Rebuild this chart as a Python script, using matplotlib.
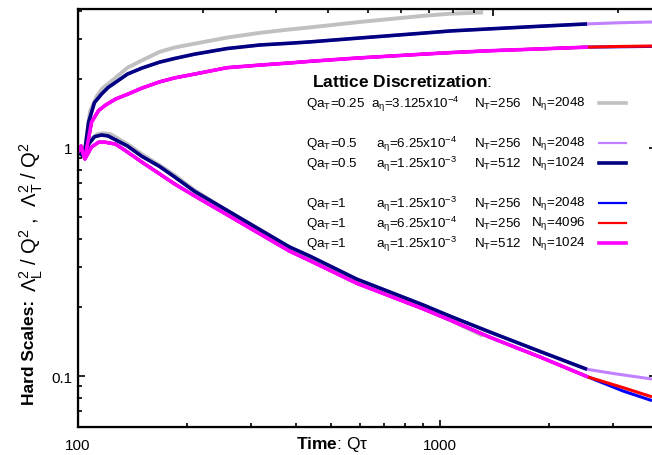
import numpy as np
import matplotlib
matplotlib.use("Agg")
from matplotlib import pyplot as plt
from matplotlib.lines import Line2D
from matplotlib.ticker import LogLocator, NullFormatter, FixedLocator, FixedFormatter

plt.rcParams['font.family'] = ['Liberation Sans', 'DejaVu Sans']
plt.rcParams['mathtext.fontset'] = 'custom'
plt.rcParams['mathtext.rm'] = 'Liberation Sans'
plt.rcParams['mathtext.it'] = 'Liberation Sans:italic'
plt.rcParams['mathtext.bf'] = 'Liberation Sans:bold'

# QaT=0.25, 256 x 2048 (gris)
t_gray = [100, 103, 105, 108, 113, 117, 123, 137, 150, 168, 185, 208, 258, 318, 384, 430, 600, 900, 1066, 1315]
T_gray = [0.96, 0.92, 1.05, 1.45, 1.70, 1.83, 1.95, 2.25, 2.42, 2.64, 2.76, 2.86, 3.05, 3.20, 3.31, 3.37, 3.57, 3.80, 3.88, 3.93]
L_gray = [0.96, 0.93, 1.00, 1.08, 1.15, 1.16, 1.15, 1.04, 0.94, 0.84, 0.76, 0.66, 0.53, 0.44, 0.365, 0.333, 0.26, 0.198, 0.176, 0.150]

# QaT=0.5, 512 x 1024 (azul marino)
t_navy = [100, 104, 107, 111, 116, 121, 137, 150, 168, 185, 210, 258, 318, 384, 438, 589, 898, 1066, 1372, 1893, 2547]
T_navy = [0.96, 0.92, 1.30, 1.58, 1.72, 1.84, 2.11, 2.24, 2.38, 2.47, 2.58, 2.73, 2.83, 2.88, 2.92, 3.03, 3.19, 3.26, 3.33, 3.42, 3.50]
L_navy = [0.96, 0.92, 1.04, 1.12, 1.14, 1.13, 1.02, 0.92, 0.83, 0.746, 0.645, 0.533, 0.438, 0.368, 0.335, 0.266, 0.205, 0.183, 0.156, 0.128, 0.107]

# QaT=0.5, 256 x 2048 (lila)
t_lila = t_navy + [3083, 3850]
T_lila = T_navy + [3.54, 3.57]
L_lila = L_navy + [0.102, 0.097]

# QaT=1, 512 x 1024 (magenta)
t_mag = [100, 102, 104.5, 109, 114, 119, 127, 137, 150, 168, 185, 210, 258, 318, 384, 438, 589, 898, 1066, 1372, 1893, 2565]
T_mag = [0.96, 1.00, 0.90, 1.30, 1.46, 1.54, 1.64, 1.72, 1.83, 1.95, 2.03, 2.11, 2.25, 2.31, 2.36, 2.40, 2.48, 2.58, 2.62, 2.67, 2.72, 2.77]
L_mag = [1.00, 1.02, 0.895, 1.01, 1.06, 1.06, 1.04, 0.96, 0.868, 0.77, 0.695, 0.616, 0.51, 0.42, 0.353, 0.32, 0.255, 0.197, 0.176, 0.148, 0.121, 0.099]

# QaT=1, 256 x 4096 (rojo) y 256 x 2048 (azul)
t_red = t_mag + [3200, 3850]
T_red = T_mag + [2.79, 2.80]
L_red = L_mag + [0.089, 0.081]
t_blue = t_mag + [3200, 3850]
T_blue = T_mag + [2.78, 2.79]
L_blue = L_mag + [0.086, 0.078]

fig = plt.figure(figsize=(6.52, 4.56), dpi=100)
W, H = 652.0, 456.0
ax = fig.add_axes([78 / W, 1 - 427.6 / H, 578 / W, (427.6 - 10) / H])

series = [
    (t_gray, T_gray, L_gray, '#c0c0c0', 2.8, 1),
    (t_lila, T_lila, L_lila, '#c080ff', 2.2, 2),
    (t_blue, T_blue, L_blue, '#0000ff', 2.2, 3),
    (t_red, T_red, L_red, '#ff0000', 2.2, 4),
    (t_navy, T_navy, L_navy, '#000080', 2.6, 5),
    (t_mag, T_mag, L_mag, '#ff00ff', 2.6, 6),
]
for t, up, lo, c, lw, z in series:
    ax.plot(t, up, color=c, lw=lw, zorder=z, solid_capstyle='butt')
    ax.plot(t, lo, color=c, lw=lw, zorder=z, solid_capstyle='butt')

ax.set_xscale('log')
ax.set_yscale('log')
ax.set_xlim(100, 3950)
ax.set_ylim(0.06, 4.07)

ax.xaxis.set_major_locator(FixedLocator([100, 1000]))
ax.xaxis.set_major_formatter(FixedFormatter(['100', '1000']))
ax.xaxis.set_minor_locator(LogLocator(base=10, subs=np.arange(2, 10)))
ax.xaxis.set_minor_formatter(NullFormatter())
ax.yaxis.set_major_locator(FixedLocator([0.1, 1]))
ax.yaxis.set_major_formatter(FixedFormatter(['0.1', '1']))
ax.yaxis.set_minor_locator(LogLocator(base=10, subs=np.arange(2, 10)))
ax.yaxis.set_minor_formatter(NullFormatter())

ax.tick_params(which='both', direction='in', top=False, right=True, labelsize=11, width=1.2)
ax.tick_params(which='major', length=5)
ax.tick_params(which='minor', length=3)
ax.tick_params(axis='x', which='major', pad=8)
ax.tick_params(axis='y', which='major', pad=4)
for s in ax.spines.values():
    s.set_linewidth(1.6)

# eje superior con otra escala
ax2 = ax.twiny()
ax2.set_xscale('log')
ax2.set_xlim(1, 10 ** (578 / 415.0))
ax2.tick_params(which='both', direction='in', labeltop=False, width=1.2)
ax2.tick_params(which='major', length=5)
ax2.tick_params(which='minor', length=3)
ax2.xaxis.set_minor_formatter(NullFormatter())
ax2.xaxis.set_major_formatter(NullFormatter())

# etiquetas de ejes
fig.text(332 / W, 1 - 445 / H, r'$\bf{Time}$: Q$\mathregular{\tau}$', fontsize=12.5,
         ha='center', va='center')

# etiqueta Y: parte en negrita + parte normal, una encima de la otra
t1 = fig.text(30 / W, 1 - 405 / H, 'Hard Scales:', fontsize=12.5, fontweight='bold',
              rotation=90, ha='center', va='bottom')
fig.canvas.draw()
bb = t1.get_window_extent(renderer=fig.canvas.get_renderer())
y_top = bb.y1 + 8
fig.text(31 / W, y_top / H,
         r'$\mathregular{\Lambda_L^2}$ / Q$^\mathregular{2}$ ,  '
         r'$\mathregular{\Lambda_T^2}$ / Q$^\mathregular{2}$',
         fontsize=14.5, rotation=90, ha='center', va='bottom')

# leyenda
fig.text(312 / W, 1 - 82 / H, r'$\bf{Lattice\ Discretization}$:', fontsize=12.5,
         ha='left', va='center')
filas = [
    ('Qa$_\\mathregular{T}$=0.25', 'a$_\\mathregular{η}$=3.125x10$^\\mathregular{-4}$', '256', '2048', 104, 371),
    ('Qa$_\\mathregular{T}$=0.5', 'a$_\\mathregular{η}$=6.25x10$^\\mathregular{-4}$', '256', '2048', 144, 376),
    ('Qa$_\\mathregular{T}$=0.5', 'a$_\\mathregular{η}$=1.25x10$^\\mathregular{-3}$', '512', '1024', 164, 376),
    ('Qa$_\\mathregular{T}$=1', 'a$_\\mathregular{η}$=1.25x10$^\\mathregular{-3}$', '256', '2048', 204, 376),
    ('Qa$_\\mathregular{T}$=1', 'a$_\\mathregular{η}$=6.25x10$^\\mathregular{-4}$', '256', '4096', 224, 376),
    ('Qa$_\\mathregular{T}$=1', 'a$_\\mathregular{η}$=1.25x10$^\\mathregular{-3}$', '512', '1024', 244, 376),
]
leg_col = ['#c0c0c0', '#c080ff', '#000080', '#0000ff', '#ff0000', '#ff00ff']
leg_lw = [2.6, 1.6, 2.6, 1.6, 1.6, 2.6]
fs = 9.6
for (qa, a, nt, ne, y, xa), c, lw in zip(filas, leg_col, leg_lw):
    fy = 1 - y / H
    fig.text(306 / W, fy, qa, fontsize=fs, ha='left', va='center')
    fig.text(xa / W, fy, a, fontsize=fs, ha='left', va='center')
    fig.text(474 / W, fy, 'N$_\\mathregular{T}$=' + nt, fontsize=fs, ha='left', va='center')
    fig.text(531 / W, fy, 'N$_\\mathregular{η}$=' + ne, fontsize=fs, ha='left', va='center')
    fig.add_artist(Line2D([599 / W, 626 / W], [fy, fy], color=c, lw=lw))

fig.savefig('out.png', dpi=100)
